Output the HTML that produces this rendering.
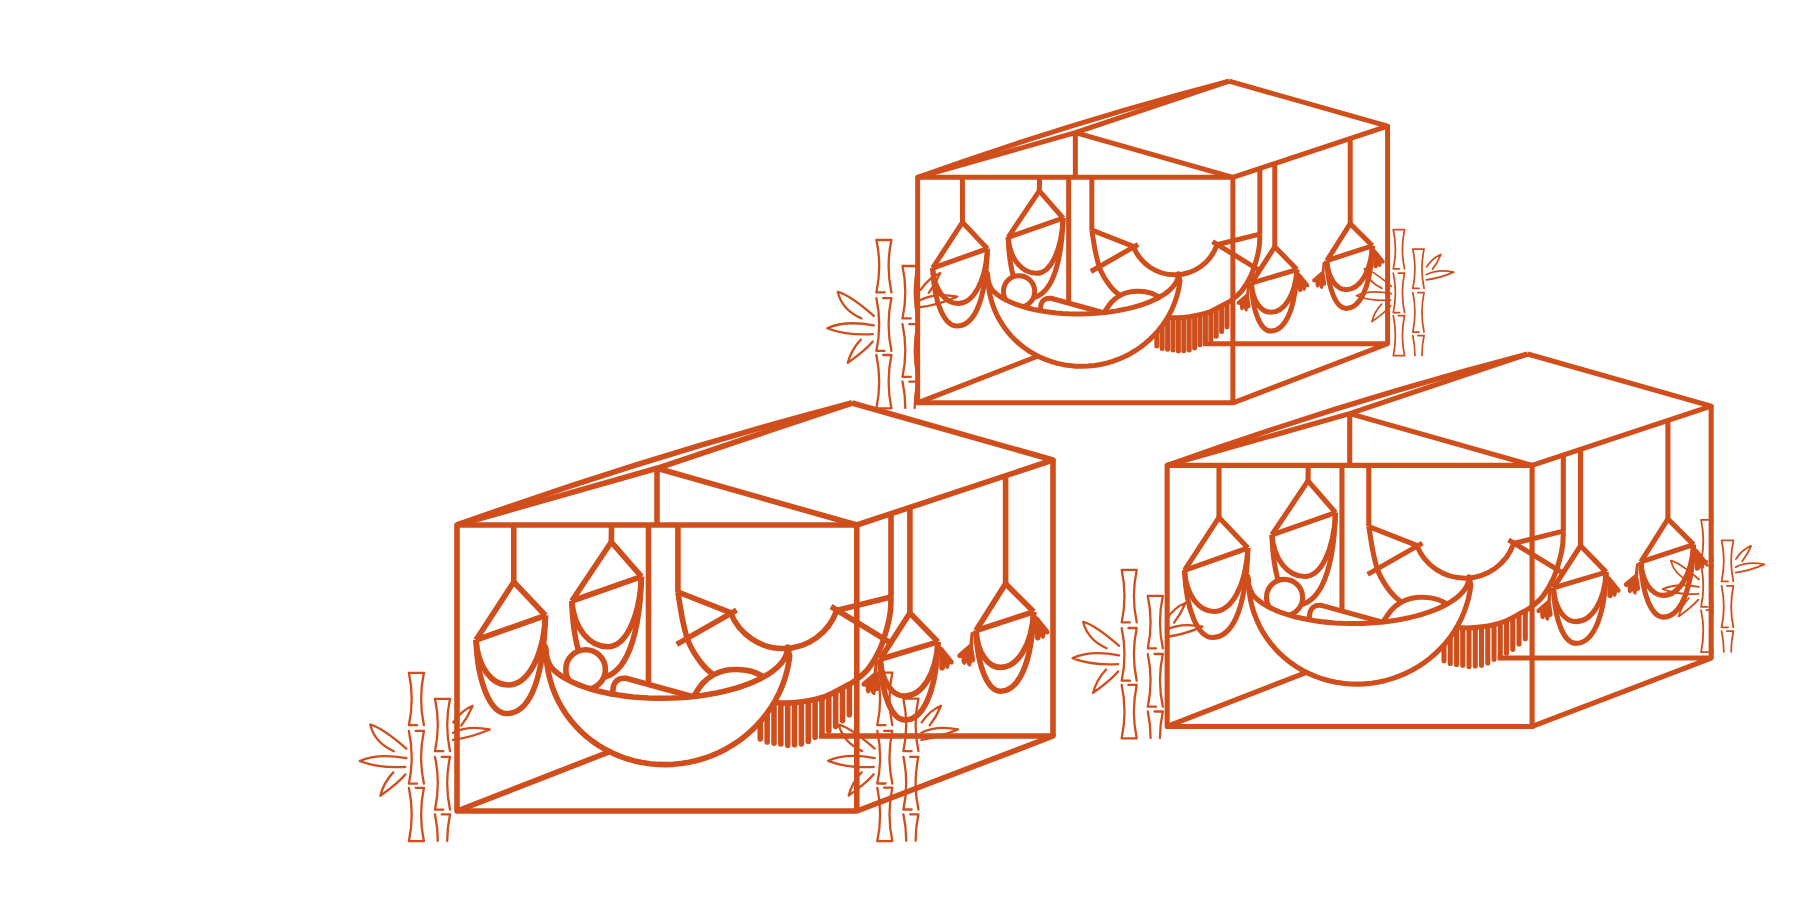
<!DOCTYPE html>
<html><head><meta charset="utf-8"><title>Hammocks</title>
<style>html,body{margin:0;padding:0;background:#fff;overflow:hidden}svg{display:block}</style>
</head><body>
<svg width="1800" height="900" viewBox="0 0 1800 900">
<defs>
<g id="box" fill="none" stroke="#D04E1B" stroke-linejoin="round">
<path d="M457,811 L650,736" />
<path d="M819,736 L1053,736 L857,811" />
<path d="M1053,460 L1053,736" />
<path d="M457,525 Q652,455.3 852,403" />
<path d="M457,525 L657,468.3 L852,403" />
<path d="M657,468.3 L856.8,525" />
<path d="M657,468.3 L657,525" />
<path d="M852,403 L1053,460 L856.8,525" />
<path d="M457,525 H856.8 V811 H457 Z" />
<g stroke-linejoin="round">
<path d="M677.9,525 L677.9,592" />
<path d="M891,513.67 L891,597" />
<path d="M677.9,592 C678.72,596.83 680.95,612.5 682.8,621 C684.65,629.5 685.97,636.05 689,643 C692.03,649.95 696.93,657.38 701,662.7 C705.07,668.02 707.73,670.35 713.4,674.9 C719.07,679.45 727.57,685.82 735,690 C742.43,694.18 750.3,697.83 758,700 C765.7,702.17 773.83,702.7 781.2,703 C788.57,703.3 794.82,702.92 802.2,701.8 C809.58,700.68 818.37,698.85 825.5,696.3 C832.63,693.75 840.08,689.1 845,686.5 C849.92,683.9 851.12,683.67 855,680.7 C858.88,677.73 864.13,673.98 868.3,668.7 C872.47,663.42 876.88,655.78 880,649 C883.12,642.22 885.28,634.17 887,628 C888.72,621.83 889.63,617.17 890.3,612 C890.97,606.83 890.88,599.5 891,597" />
<path d="M760.3,701.8 V739 M767.15,702.68 V741.9 M774,703.57 V743.1 M780.85,704.45 V744 M787.7,704.13 V745.2 M794.55,703.74 V744.8 M801.4,703.35 V744 M808.25,701.87 V741.5 M815.1,700.25 V737.3 M821.95,698.64 V734.8 M828.8,696.14 V730.8 M835.65,692.7 V726.5 M842.5,689.26 V720.6 M849.35,685.48 V714.8" stroke-linecap="round"/>
<path d="M730.5,612.6 A56.6,56.6 0 0 0 836.5,611" />
<path d="M677.9,592 L730.5,612.6" />
<path d="M676.7,644.4 L736.6,610.1" />
<path d="M891,597 L836.5,610.5" />
<path d="M831,606.5 L888.9,641.9" />
<path d="M513.8,525 L513.8,582" />
<path d="M476,640 L513.8,582 L545.5,615.5" />
<path d="M476,640 L545.5,615.5" />
<path d="M476,640 C477.93,667.9 492.1,685 508.2,685 C526.85,685 543.26,658.59 545.5,615.5" />
<path d="M476,640 C477.84,685.57 491.35,713.5 506.7,713.5 C526.1,713.5 543.17,689 545.5,615.5" />
<path d="M611.6,525 L611.3,542" />
<path d="M571.8,601 L611.3,542 L641.5,576.7" />
<path d="M571.8,601 L641.5,576.7" />
<path d="M571.8,601 C573.96,629.33 589.8,646.7 607.8,646.7 C624.65,646.7 639.48,620.1 641.5,576.7" />
<path d="M571.8,601 C573.37,648.74 584.9,678 598,678 C619.75,678 638.89,652.67 641.5,576.7" />
<path d="M909.9,507.41 L909.9,613" />
<path d="M880.2,659.2 L909.9,613 L938,641.9" />
<path d="M880.2,659.2 L938,641.9" />
<path d="M880.2,659.2 C881.68,682.08 892.5,696.1 904.8,696.1 C921.4,696.1 936.01,675.5 938,641.9" />
<path d="M880.2,659.2 C881.68,696.9 892.5,720 904.8,720 C921.4,720 936.01,696.57 938,641.9" />
<path d="M 939.6,645.9 L 942.3,646.9 L 953.6,660.9 Q 954.2,664.7 951.2,664.5 L 949.8,663.9 Q 949.6,669.1 946.6,669.1 L 945.3,666.9 Q 944.8,670.7 941.6,670.5 Q 939,669.9 939.2,666.9 Z" fill="#D04E1B" stroke="none"/>
<path d="M 878,660.2 L 874.8,661.2 L 873.6,672.7 L 861.8,682.8 Q 860.6,686.8 864.6,686.8 L 865.8,686.4 Q 865,693.8 869.2,693.6 L 870.8,691 Q 871.7,695.8 875,695 L 876,691 Q 879,691.6 879.4,688.4 L 877.2,675.2 Z" fill="#D04E1B" stroke="none"/>
<path d="M1005.6,475.7 L1005.6,583.7" />
<path d="M976,630.6 L1005.6,583.7 L1033.7,611.8" />
<path d="M976,630.6 L1033.7,611.8" />
<path d="M976,630.6 C977.47,653.42 988.25,667.4 1000.5,667.4 C1017.1,667.4 1031.71,646.27 1033.7,611.8" />
<path d="M976,630.6 C977.47,668.17 988.25,691.2 1000.5,691.2 C1017.1,691.2 1031.71,667.38 1033.7,611.8" />
<path d="M 1035.3,615.8 L 1038,616.8 L 1049.3,630.8 Q 1049.9,634.6 1046.9,634.4 L 1045.5,633.8 Q 1045.3,639 1042.3,639 L 1041,636.8 Q 1040.5,640.6 1037.3,640.4 Q 1034.7,639.8 1034.9,636.8 Z" fill="#D04E1B" stroke="none"/>
<path d="M 973.8,631.6 L 970.6,632.6 L 969.4,644.1 L 957.6,654.2 Q 956.4,658.2 960.4,658.2 L 961.6,657.8 Q 960.8,665.2 965,665 L 966.6,662.4 Q 967.5,667.2 970.8,666.4 L 971.8,662.4 Q 974.8,663 975.2,659.8 L 973,646.6 Z" fill="#D04E1B" stroke="none"/>
<path d="M648.5,525 L648.5,683" />
<circle cx="585.6" cy="669.6" r="19.8" fill="#fff"/>
<path d="M611.5,700 L613.5,686 Q616,677.5 626,678.3 L694,697 L694,712 L611.5,712 Z" fill="#fff" stroke-linejoin="round"/>
<path d="M693.8,696 C695.33,693.83 699.73,686.52 703,683 C706.27,679.48 709.73,676.98 713.4,674.9 C717.07,672.82 720.93,671.4 725,670.5 C729.07,669.6 733.3,669.33 737.8,669.5 C742.3,669.67 747.3,670.08 752,671.5 C756.7,672.92 763.67,676.92 766,678 L770,700 L694,712 Z" fill="#fff"/>
<path d="M545.3,646.5 L545.59,649.78 L546.01,652.88 L546.56,655.78 L547.25,658.51 L548.06,661.04 L549.01,663.39 L550.08,665.55 L551.29,667.52 L554.1,670.38 L557.36,673.15 L561.07,675.82 L565.2,678.39 L569.75,680.84 L574.69,683.16 L580,685.34 L585.67,687.38 L591.66,689.26 L597.95,690.98 L604.53,692.53 L611.35,693.9 L618.4,695.1 L625.64,696.11 L633.05,696.92 L640.59,697.55 L648.23,697.98 L655.95,698.21 L663.7,698.24 L671.47,698.07 L679.22,697.7 L686.91,697.14 L694.51,696.38 L702,695.43 L709.34,694.3 L716.51,692.98 L723.47,691.48 L730.19,689.81 L736.65,687.98 L742.83,685.99 L748.69,683.85 L754.21,681.58 L759.37,679.17 L764.16,676.64 L768.54,673.99 L772.5,671.25 L776.03,668.42 L779.11,665.52 L781.72,662.54 L783.87,659.52 L785.53,656.45 L786.71,653.35 L787.39,650.24 L787.58,647.13 L789.69,656.12 L788.57,663.68 L786.96,671.18 L784.84,678.57 L782.25,685.83 L779.18,692.92 L775.64,699.82 L771.66,706.51 L767.26,712.94 L762.43,719.09 L757.22,724.95 L751.64,730.47 L745.71,735.65 L739.46,740.46 L732.91,744.88 L726.09,748.89 L719.04,752.47 L711.77,755.61 L704.32,758.3 L696.72,760.53 L689,762.28 L681.2,763.55 L673.34,764.33 L665.46,764.62 L657.59,764.42 L649.77,763.74 L642.02,762.56 L634.39,760.9 L626.89,758.77 L619.57,756.17 L612.45,753.11 L605.56,749.61 L598.93,745.68 L592.59,741.34 L586.56,736.61 L580.88,731.5 L575.56,726.03 L570.62,720.24 L566.09,714.14 L561.98,707.76 L558.32,701.13 L555.11,694.26 L552.38,687.2 L550.13,679.97 L548.36,672.61 L547.1,665.13 L546.34,657.57 L546.09,649.98 L545.3,646.5 Z" fill="#fff" stroke-linejoin="round"/>
</g></g>
<path id="bam" d="M0,0.4 Q5.6,26.6 0,52.8 M15,0.4 Q9.4,26.6 15,52.8 M0,0.4 H15 M0,52.8 H8.25 M0,58.5 Q5.6,84.85 0,111.2 M15,58.5 Q9.4,84.85 15,111.2 M6.75,58.5 H15 M0,111.2 H8.25 M0,115.4 Q5.6,142.1 0,168.8 M15,115.4 Q9.4,142.1 15,168.8 M6.75,115.4 H15 M0,168.8 H15 M26.1,26.4 Q31.7,52.6 26.1,78.8 M41.1,26.4 Q35.5,52.6 41.1,78.8 M26.1,26.4 H41.1 M26.1,78.8 H34.35 M26.1,84.5 Q31.7,110.85 26.1,137.2 M41.1,84.5 Q35.5,110.85 41.1,137.2 M32.85,84.5 H41.1 M26.1,137.2 H34.35 M26.1,142 Q28.9,155.25 28.9,168.5 M41.1,142 Q38.3,155.25 38.3,168.5 M32.85,142 H41.1 M-38.6,52.3 Q-26.6,55.3 -2.6,76.3 M-38.6,52.3 Q-34.35,70.05 -15.1,78.8 M-49.1,88.6 Q-31.35,80.4 -2.6,85.8 M-49.1,88.6 Q-30.85,96 -3.6,94.6 M-28.6,123.3 Q-25.1,109.95 -15.6,100 M-28.6,123.3 Q-11.1,110.95 -3.6,102 M63.7,33.5 Q52.75,37.8 44.4,50.1 M63.7,33.5 Q59.35,44.3 52.4,53.1 M80.7,57.1 Q59,52.8 44.1,60.5 M80.7,57.1 Q61.8,65.3 44.1,67.5" fill="none" stroke="#D04E1B" stroke-width="2.3" stroke-linecap="round"/>
</defs>
<rect width="1800" height="900" fill="#fff"/>
<use href="#bam" transform="translate(408.9,672.4)"/>
<use href="#bam" transform="translate(877.3,672.3)"/>
<use href="#bam" transform="translate(876.4,239.6)"/>
<use href="#bam" transform="translate(1393.3,229.4) scale(0.748)"/>
<use href="#bam" transform="translate(1121.7,569.5)"/>
<use href="#bam" transform="translate(1701.1,519.6) scale(0.785)"/>
<use href="#box" stroke-width="5.6"/>
<use href="#box" stroke-width="6.34" transform="translate(557.3,-236.6) scale(0.7885)"/>
<use href="#box" stroke-width="5.59" transform="translate(750,-13.8) scale(0.9128)"/>
</svg>
</body></html>
